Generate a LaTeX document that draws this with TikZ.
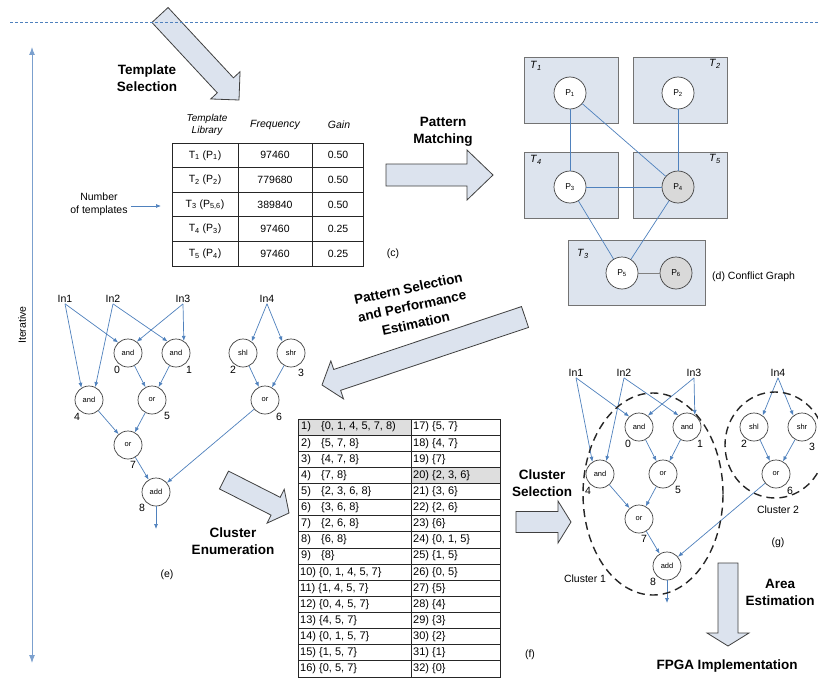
\documentclass[tikz,border=0pt]{standalone}
\usepackage{fontspec}
\setmainfont{Liberation Sans}
\usetikzlibrary{arrows.meta,calc}
\definecolor{lblue}{RGB}{79,129,189}
\definecolor{boxfill}{RGB}{221,228,238}
\definecolor{arrfill}{RGB}{220,227,238}
\definecolor{cellgray}{RGB}{222,222,222}
\definecolor{pgray}{RGB}{217,217,217}

% tail, tip, half shaft, half head, head length
\newcommand\blockarrow[5]{%
  \coordinate (ba-t) at #1; \coordinate (ba-h) at #2;
  \coordinate (ba-b) at ($(ba-h)!#5!(ba-t)$);
  \draw[blockarr] ($(ba-t)!#3!90:(ba-h)$) -- ($(ba-b)!#3!-90:(ba-t)$) -- ($(ba-b)!#4!-90:(ba-t)$) -- (ba-h) -- ($(ba-b)!#4!90:(ba-t)$) -- ($(ba-b)!#3!90:(ba-t)$) -- ($(ba-t)!#3!-90:(ba-h)$) -- cycle;}

\newcommand\dfg[2]{%
\begin{scope}[shift={#2}]
  \node[small] (#1i1) at (-63,-54) {In1};
  \node[small] (#1i2) at (-15,-54) {In2};
  \node[small] (#1i3) at (55,-54) {In3};
  \node[small] (#1i4) at (139,-54) {In4};
  \node[op] (#1n0) at (0,0) {and};
  \node[op] (#1n1) at (48,0) {and};
  \node[op] (#1n2) at (115,0) {shl};
  \node[op] (#1n3) at (163,0) {shr};
  \node[op] (#1n4) at (-39,47) {and};
  \node[op] (#1n5) at (24,47) {or};
  \node[op] (#1n6) at (137,47) {or};
  \node[op] (#1n7) at (0,92) {or};
  \node[op] (#1n8) at (28,139) {add};
  \coordinate (#1out) at (28,176);
  \node[small] (#1l0) at (-11,17) {0};
  \node[small] (#1l1) at (61,17) {1};
  \node[small] (#1l2) at (105,17) {2};
  \node[small] (#1l3) at (173,20) {3};
  \node[small] (#1l4) at (-51,64) {4};
  \node[small] (#1l5) at (39,63) {5};
  \node[small] (#1l6) at (151,64) {6};
  \node[small] (#1l7) at (5,112) {7};
  \node[small] (#1l8) at (14,155) {8};
  \draw[edge] (#1i1.south) -- (#1n0.133);
  \draw[edge] (#1i1.south) -- (#1n4.122);
  \draw[edge] (#1i2.south) -- (#1n4.64);
  \draw[edge] (#1i2.south) -- (#1n1.126);
  \draw[edge] (#1i3.south) -- (#1n0.52);
  \draw[edge] (#1i3.south) -- (#1n1.57);
  \draw[edge] (#1i4.south) -- (#1n2.53);
  \draw[edge] (#1i4.south) -- (#1n3.127);
  \draw[edge] (#1n0) -- (#1n5);
  \draw[edge] (#1n1) -- (#1n5);
  \draw[edge] (#1n2) -- (#1n6);
  \draw[edge] (#1n3) -- (#1n6);
  \draw[edge] (#1n4) -- (#1n7);
  \draw[edge] (#1n5) -- (#1n7);
  \draw[edge] (#1n7) -- (#1n8);
  \draw[edge] (#1n6) -- (#1n8);
  \draw[edge] (#1n8) -- (#1out);
\end{scope}}

\begin{document}
\begin{tikzpicture}[x=1pt,y=-1pt,
  blockarr/.style={draw=black!75, fill=arrfill, line width=0.8pt, line join=miter},
  bold/.style={font=\bfseries\fontsize{13.5}{17}\selectfont, align=center, inner sep=0pt},
  small/.style={font=\fontsize{10.5}{12.5}\selectfont, inner sep=1pt},
  op/.style={circle, draw=black!75, line width=0.7pt, fill=white, minimum size=28pt, inner sep=0pt, font=\fontsize{7.5}{8}\selectfont},
  pn/.style={circle, draw=black!75, line width=0.7pt, fill=white, minimum size=32pt, inner sep=0pt, font=\fontsize{8.5}{9}\selectfont},
  tbox/.style={draw=black!55, line width=0.7pt, fill=boxfill, minimum width=94pt, minimum height=66pt, inner sep=0pt},
  edge/.style={lblue, line width=0.7pt, -{Latex[length=5pt,width=4pt]}},
  cedge/.style={lblue, line width=0.7pt},
  tline/.style={draw=black!85, line width=0.8pt},
  clus/.style={draw=black!85, line width=1.4pt, dash pattern=on 8pt off 5pt},
  tabtxt/.style={font=\fontsize{11}{12}\selectfont, inner sep=0pt, anchor=west}
]
\useasboundingbox (0,0) rectangle (818,682);
\clip (0,0) rectangle (818,682);
\fill[white] (0,0) rectangle (818,682);

% ---------- Template selection arrow + dashed line
\coordinate (tsA) at (160,15); \coordinate (tsB) at (239,100);
\blockarrow{(tsA)}{(tsB)}{11pt}{20pt}{20pt}
\coordinate (dl1) at (10,23); \coordinate (dl2) at (818,23);
\draw[lblue, line width=1pt, dash pattern=on 3pt off 2pt] (dl1) -- (dl2);
\node[bold] (tstext) at (147,78) {Template\\Selection};

% ---------- Iterative
\coordinate (it1) at (32,47); \coordinate (it2) at (32,663);
\draw[lblue!75, line width=1pt, {Latex[length=8pt,width=6pt]}-{Latex[length=8pt,width=6pt]}] (it1) -- (it2);
\node[small, rotate=90] (ittext) at (22,325) {Iterative};

% ---------- Table (c)
\node[small, font=\itshape\fontsize{10}{12.5}\selectfont, align=center] (hc1) at (207,125) {Template\\Library};
\node[small, font=\itshape\fontsize{10.5}{12.5}\selectfont] (hc2) at (275,125) {Frequency};
\node[small, font=\itshape\fontsize{10.5}{12.5}\selectfont] (hc3) at (339,125) {Gain};
\draw[tline] (172,143) rectangle (363,266);
\foreach \xx in {238,312} \draw[tline] (\xx,143) -- (\xx,266);
\foreach \yy in {167.6,192.2,216.8,241.4} \draw[tline] (172,\yy) -- (363,\yy);
\foreach \r/\a/\b/\c in {1/{T\textsubscript{1} (P\textsubscript{1})}/97460/0.50,
  2/{T\textsubscript{2} (P\textsubscript{2})}/779680/0.50,
  3/{T\textsubscript{3} (P\textsubscript{5,6})}/389840/0.50,
  4/{T\textsubscript{4} (P\textsubscript{3})}/97460/0.25,
  5/{T\textsubscript{5} (P\textsubscript{4})}/97460/0.25}{
  \node[small] (ca\r) at (205,{143+24.6*(\r-0.5)}) {\a};
  \node[small] (cb\r) at (275,{143+24.6*(\r-0.5)}) {\b};
  \node[small] (cc\r) at (338,{143+24.6*(\r-0.5)}) {\c};
}
\node[small, align=center, font=\fontsize{10.5}{13}\selectfont] (num) at (99,204) {Number\\of templates};
\coordinate (numend) at (161,206);
\draw[edge] ([xshift=2pt]num.east |- numend) -- (numend);
\node[small] (labc) at (393,254) {(c)};

% ---------- Pattern matching
\node[bold] (pmtext) at (443,132) {Pattern\\Matching};
\coordinate (pmA) at (386,175); \coordinate (pmB) at (493,175);
\blockarrow{(pmA)}{(pmB)}{11pt}{25pt}{26pt}

% ---------- Conflict graph (d)
\node[tbox] (bT1) at (571,90) {};
\node[tbox] (bT2) at (680,90) {};
\node[tbox] (bT4) at (571,185.5) {};
\node[tbox] (bT5) at (680,185.5) {};
\node[tbox, minimum width=137pt, minimum height=65pt] (bT3) at (636.5,272.5) {};
\node[small] (lT1) at (536,66) {\textit{T}\textsubscript{\textit{1}}};
\node[small] (lT2) at (715,64) {\textit{T}\textsubscript{\textit{2}}};
\node[small] (lT4) at (536,160) {\textit{T}\textsubscript{\textit{4}}};
\node[small] (lT5) at (715,159) {\textit{T}\textsubscript{\textit{5}}};
\node[small] (lT3) at (583,254) {\textit{T}\textsubscript{\textit{3}}};
\node[pn] (P1) at (570,93) {P\textsubscript{1}};
\node[pn] (P2) at (678,93) {P\textsubscript{2}};
\node[pn] (P3) at (570,187) {P\textsubscript{3}};
\node[pn, fill=pgray] (P4) at (678,187) {P\textsubscript{4}};
\node[pn] (P5) at (622,273) {P\textsubscript{5}};
\node[pn, fill=pgray] (P6) at (676,273) {P\textsubscript{6}};
\draw[cedge] (P1) -- (P3);
\draw[cedge] (P1) -- (P4);
\draw[cedge] (P2) -- (P4);
\draw[cedge] (P3) -- (P4);
\draw[cedge] (P3) -- (P5);
\draw[cedge] (P4) -- (P5);
\draw[cedge, draw=gray] (P5) -- (P6);
\node[small, anchor=west] (labd) at (711,277) {(d) Conflict Graph};

% ---------- Pattern selection arrow
\coordinate (psA) at (525,317); \coordinate (psB) at (322,385);
\blockarrow{(psA)}{(psB)}{11pt}{20pt}{16pt}
\node[bold, rotate=12, font=\bfseries\fontsize{13.5}{18}\selectfont] (pstext) at (412,306) {Pattern Selection\\and Performance\\Estimation};

% ---------- Graph (e)
\dfg{e}{(128,353)}
\node[small] (labe) at (167,575) {(e)};

% ---------- Cluster enumeration
\coordinate (ceA) at (224,480); \coordinate (ceB) at (289,513);
\blockarrow{(ceA)}{(ceB)}{10pt}{19pt}{15pt}
\node[bold] (cetext) at (233,541) {Cluster\\Enumeration};

% ---------- Table (f)
\fill[cellgray] (298,419) rectangle (411,435.125);
\fill[cellgray] (411,467.375) rectangle (500,483.5);
\draw[tline] (298,419) rectangle (500,677);
\draw[tline] (411,419) -- (411,677);
\foreach \i in {1,...,15} \draw[tline] (298,{419+16.125*\i}) -- (500,{419+16.125*\i});
\foreach \i/\s in {1/{\{0, 1, 4, 5, 7, 8)},2/{\{5, 7, 8\}},3/{\{4, 7, 8\}},4/{\{7, 8\}},5/{\{2, 3, 6, 8\}},6/{\{3, 6, 8\}},7/{\{2, 6, 8\}},8/{\{6, 8\}},9/{\{8\}}}{
  \node[tabtxt] (fn\i) at (301,{419+16.125*(\i-0.5)}) {\i)};
  \node[tabtxt] (fs\i) at (321,{419+16.125*(\i-0.5)}) {\s};
}
\foreach \i/\s in {10/{\{0, 1, 4, 5, 7\}},11/{\{1, 4, 5, 7\}},12/{\{0, 4, 5, 7\}},13/{\{4, 5, 7\}},14/{\{0, 1, 5, 7\}},15/{\{1, 5, 7\}},16/{\{0, 5, 7\}}}{
  \node[tabtxt] (fs\i) at (300,{419+16.125*(\i-0.5)}) {\i) \s};
}
\foreach \i/\s in {17/{\{5, 7\}},18/{\{4, 7\}},19/{\{7\}},20/{\{2, 3, 6\}},21/{\{3, 6\}},22/{\{2, 6\}},23/{\{6\}},24/{\{0, 1, 5\}},25/{\{1, 5\}},26/{\{0, 5\}},27/{\{5\}},28/{\{4\}},29/{\{3\}},30/{\{2\}},31/{\{1\}},32/{\{0\}}}{
  \node[tabtxt] (fs\i) at (413,{419+16.125*(\i-16.5)}) {\i) \s};
}
\node[small] (labf) at (530,655) {(f)};

% ---------- Cluster selection
\node[bold] (cstext) at (542,483) {Cluster\\Selection};
\coordinate (csA) at (516,522); \coordinate (csB) at (571,522);
\blockarrow{(csA)}{(csB)}{10.5pt}{21pt}{13pt}

% ---------- Graph (g)
\dfg{g}{(639,427)}
\coordinate (c1) at (653,494);
\coordinate (c2) at (775,445);
\draw[clus] (c1) ellipse [x radius=70pt, y radius=101pt];
\draw[clus] (c2) ellipse [x radius=50pt, y radius=53pt];
\node[small] (lc1) at (585,579) {Cluster 1};
\node[small] (lc2) at (778,510) {Cluster 2};
\node[small] (labg) at (778,543) {(g)};

% ---------- Area estimation / FPGA
\coordinate (aeA) at (728,563); \coordinate (aeB) at (728,646);
\blockarrow{(aeA)}{(aeB)}{10pt}{21pt}{13pt}
\node[bold] (aetext) at (780,592) {Area\\Estimation};
\node[bold] (fpga) at (727,666) {FPGA Implementation};
\end{tikzpicture}
\end{document}
